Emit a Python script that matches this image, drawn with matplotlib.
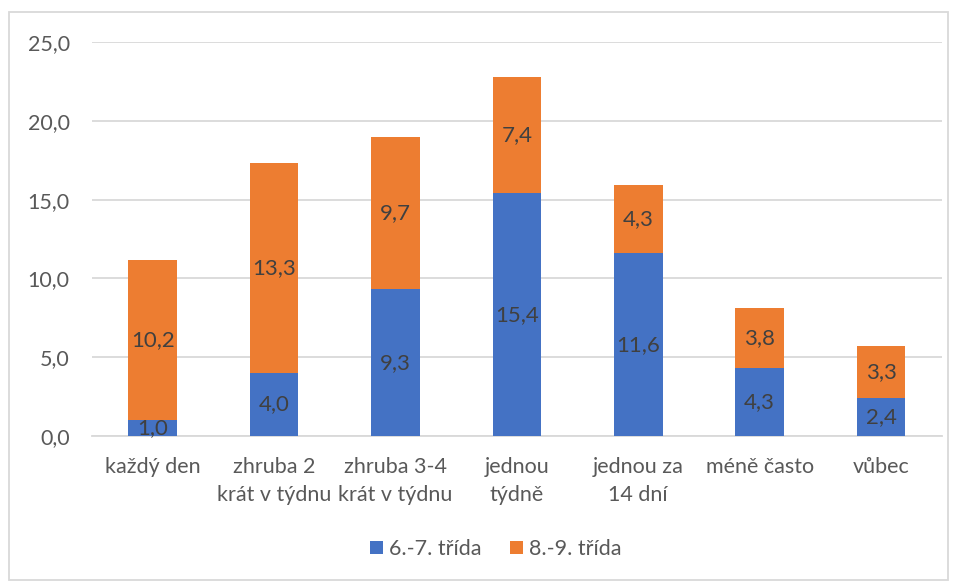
import numpy as np
import matplotlib.pyplot as plt
from matplotlib.patches import Rectangle

plt.rcParams['font.family'] = ['Lato', 'DejaVu Sans']

categories = ['každý den', 'zhruba 2\nkrát v týdnu', 'zhruba 3-4\nkrát v týdnu',
              'jednou\ntýdně', 'jednou za\n14 dní', 'méně často', 'vůbec']
series_names = ['6.-7. třída', '8.-9. třída']
grade67 = [1.0, 4.0, 9.3, 15.4, 11.6, 4.3, 2.4]
grade89 = [10.2, 13.3, 9.7, 7.4, 4.3, 3.8, 3.3]
yticks = [0, 5, 10, 15, 20, 25]

blue = '#4472C4'
orange = '#ED7D31'
text_col = '#595959'

fig = plt.figure(figsize=(9.57, 5.83), dpi=100)
ax = fig.add_axes([0.0961, 0.252, 0.888, 0.676])

x = np.arange(len(categories))
w = 0.40
b1 = ax.bar(x, grade67, w, color=blue, label=series_names[0], zorder=3)
b2 = ax.bar(x, grade89, w, bottom=grade67, color=orange, label=series_names[1], zorder=3)

def fmt(v):
    return f'{v:.1f}'.replace('.', ',')

for bars, vals, bottoms in [(b1, grade67, [0] * len(grade67)), (b2, grade89, grade67)]:
    for rect, v, b in zip(bars, vals, bottoms):
        ax.text(rect.get_x() + rect.get_width() / 2, b + v / 2, fmt(v),
                ha='center', va='center', fontsize=16, color='#404040', zorder=4)

ax.set_xlim(-0.5, len(categories) - 0.5)
ax.set_ylim(0, 25)
ax.set_yticks(yticks)
ax.set_yticklabels([fmt(t) for t in yticks], fontsize=15.5, color=text_col)
ax.set_xticks(x)
ax.set_xticklabels(categories, fontsize=15.5, color=text_col, linespacing=1.5, va='top')
ax.tick_params(axis='both', length=0)
ax.tick_params(axis='y', pad=16)
ax.tick_params(axis='x', pad=15)
ax.yaxis.grid(True, color='#D9D9D9', linewidth=1.3, zorder=0)
ax.set_axisbelow(True)
for s in ['top', 'right', 'left']:
    ax.spines[s].set_visible(False)
ax.spines['bottom'].set_color('#D9D9D9')
ax.spines['bottom'].set_linewidth(1.3)

fig.legend(handles=[b1, b2], loc='center', bbox_to_anchor=(0.518, 1 - 549 / 583),
           ncol=2, frameon=False, fontsize=15.5, labelcolor=text_col,
           handlelength=0.6, handleheight=0.6, handletextpad=0.3, columnspacing=1.3)

fig.patches.append(Rectangle((9 / 957, 3 / 583), 939 / 957, 568 / 583,
                             transform=fig.transFigure, fill=False,
                             edgecolor='#D9D9D9', linewidth=1.3))

fig.savefig('out.png', dpi=100)
